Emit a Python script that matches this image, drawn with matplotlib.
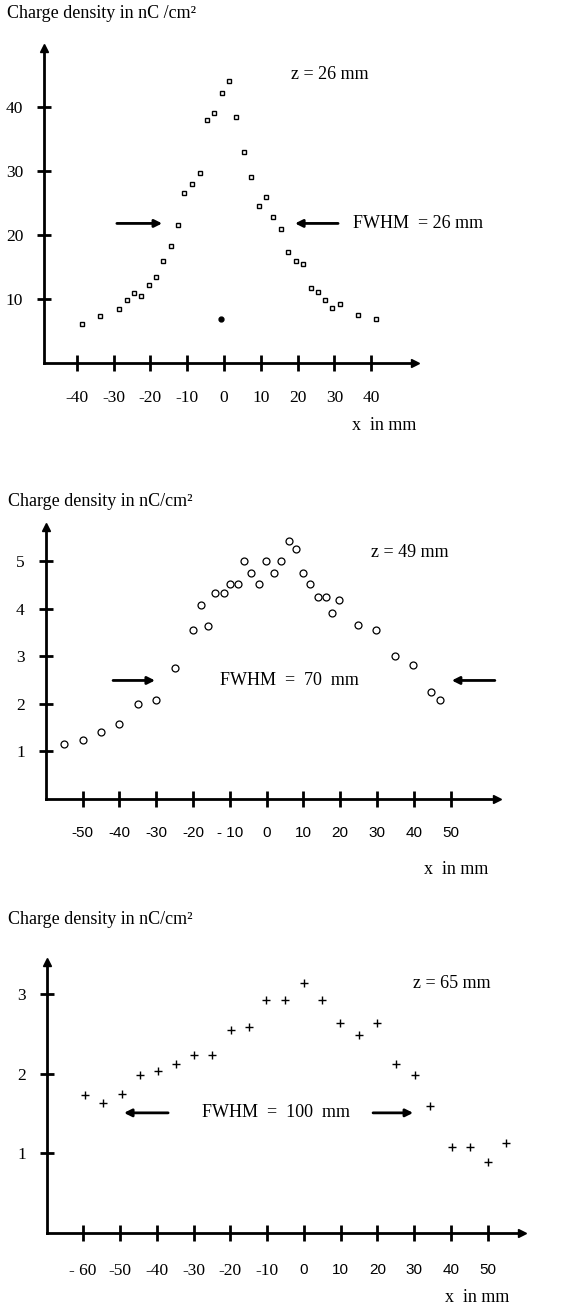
import matplotlib.pyplot as plt

SERIF = 'Liberation Serif'
SANS = 'Liberation Sans'
plt.rcParams['font.family'] = SERIF

# panel 1: z = 26 mm
p1_x = [-38.6, -33.6, -28.5, -26.4, -24.4, -22.5, -20.5, -18.5, -16.5, -14.5, -12.4,
        -10.8, -8.8, -6.5, -4.6, -2.6, -0.5, 1.4, 3.3, 5.4, 7.4, 9.4, 11.3, 13.4,
        15.5, 17.5, 19.5, 21.5, 23.6, 25.5, 27.4, 29.4, 31.4, 36.5, 41.4]
p1_y = [6.1, 7.4, 8.5, 9.8, 11.0, 10.4, 12.2, 13.5, 16.0, 18.3, 21.5,
        26.6, 27.9, 29.6, 38.0, 39.1, 42.2, 44.1, 38.5, 32.9, 29.0, 24.6, 26.0, 22.8,
        20.9, 17.3, 16.0, 15.4, 11.7, 11.1, 9.9, 8.6, 9.2, 7.5, 6.9]
p1_dot_x = [-0.7]
p1_dot_y = [6.9]
p1_xticks = [-40, -30, -20, -10, 0, 10, 20, 30, 40]
p1_xlabels = ['-40', '-30', '-20', '-10', '0', '10', '20', '30', '40']
p1_yticks = [10, 20, 30, 40]

# panel 2: z = 49 mm
p2_x = [-55.1, -50.0, -45.1, -40.1, -35.0, -30.1, -25.0, -20.1, -17.8, -16.0, -14.0,
        -11.7, -10.0, -7.8, -6.2, -4.2, -2.1, -0.2, 1.9, 3.9, 6.0, 8.0, 9.8, 11.9,
        14.0, 16.2, 17.9, 19.8, 24.9, 29.8, 34.9, 39.8, 44.6, 47.1]
p2_y = [1.15, 1.24, 1.41, 1.57, 1.99, 2.07, 2.75, 3.56, 4.08, 3.63, 4.33,
        4.33, 4.52, 4.52, 5.0, 4.75, 4.51, 5.0, 4.75, 5.0, 5.43, 5.26, 4.75, 4.51,
        4.25, 4.25, 3.9, 4.17, 3.65, 3.56, 3.0, 2.82, 2.24, 2.07]
p2_xticks = [-50, -40, -30, -20, -10, 0, 10, 20, 30, 40, 50]
p2_xlabels = ['-50', '-40', '-30', '-20', '- 10', '0', '10', '20', '30', '40', '50']
p2_yticks = [1, 2, 3, 4, 5]

# panel 3: z = 65 mm
p3_x = [-59.5, -54.6, -49.5, -44.6, -39.7, -34.7, -30.0, -25.0, -19.8, -14.9, -10.2,
        -5.2, 0.0, 4.9, 9.8, 14.9, 19.9, 25.1, 30.1, 34.2, 40.2, 45.1, 50.1, 55.0]
p3_y = [1.74, 1.64, 1.75, 1.98, 2.03, 2.13, 2.24, 2.24, 2.55, 2.59, 2.93,
        2.93, 3.14, 2.93, 2.64, 2.49, 2.64, 2.13, 1.98, 1.59, 1.08, 1.08, 0.89, 1.13]
p3_xticks = [-60, -50, -40, -30, -20, -10, 0, 10, 20, 30, 40, 50]
p3_xlabels = ['- 60', '-50', '-40', '-30', '-20', '-10', '0', '10', '20', '30', '40', '50']
p3_yticks = [1, 2, 3]

W, H = 572, 1305
fig = plt.figure(figsize=(W / 100, H / 100), dpi=100)


def make_axes(left, top, right, bottom):
    return fig.add_axes([left / W, 1 - bottom / H, (right - left) / W, (bottom - top) / H])


def style(ax, xticks, xlabels, yticks, xfonts, xpad):
    for s in ['top', 'right']:
        ax.spines[s].set_visible(False)
    for s in ['left', 'bottom']:
        ax.spines[s].set_linewidth(2)
    ax.set_xticks(xticks, xlabels)
    ax.set_yticks(yticks, [str(t) for t in yticks])
    ax.tick_params(axis='x', direction='inout', length=11, width=2, pad=xpad, labelsize=12.5)
    ax.tick_params(axis='y', direction='inout', length=10, width=2, pad=10, labelsize=12.5)
    for lab, f in zip(ax.get_xticklabels(), xfonts):
        lab.set_family(f)
        if f == SANS:
            lab.set_fontsize(11)
    ax.plot(1, 0, marker='>', ms=6, color='k', transform=ax.transAxes, clip_on=False)
    ax.plot(0, 1, marker='^', ms=6, color='k', transform=ax.transAxes, clip_on=False)


def arrow(ax, tail, head):
    ax.annotate('', xy=head, xytext=tail,
                arrowprops=dict(arrowstyle='-|>', color='k', lw=2, mutation_scale=11,
                                shrinkA=0, shrinkB=0))


# ---- panel 1
ax1 = make_axes(44, 48, 415, 363)
ax1.set_xlim(-48.9, 51.9)
ax1.set_ylim(0, 49.2)
ax1.plot(p1_x, p1_y, ls='none', marker='s', ms=3.2, mfc='white', mec='k', mew=1)
ax1.plot(p1_dot_x, p1_dot_y, ls='none', marker='o', ms=3.5, color='k')
style(ax1, p1_xticks, p1_xlabels, p1_yticks, [SERIF] * 9, 14)
arrow(ax1, (-29.1, 21.8), (-16.8, 21.8))
arrow(ax1, (31.0, 21.8), (19.3, 21.8))
ax1.text(35.0, 21.8, 'FWHM  = 26 mm', fontsize=13, va='center', ha='left')
ax1.text(18.2, 45.0, 'z = 26 mm', fontsize=13, va='center', ha='left')
fig.text(7 / W, 1 - 13 / H, 'Charge density in nC /cm²', fontsize=13, va='center', ha='left')
fig.text(384 / W, 1 - 425 / H, 'x  in mm', fontsize=13, va='center', ha='center')

# ---- panel 2
ax2 = make_axes(45.7, 526.7, 496.7, 799)
ax2.set_xlim(-60, 62.5)
ax2.set_ylim(0, 5.72)
ax2.plot(p2_x, p2_y, ls='none', marker='o', ms=5, mfc='white', mec='k', mew=0.9)
style(ax2, p2_xticks, p2_xlabels, p2_yticks, [SANS] * 11, 14)
arrow(ax2, (-41.7, 2.49), (-30.3, 2.49))
arrow(ax2, (62.0, 2.49), (50.3, 2.49))
ax2.text(-12.7, 2.49, 'FWHM  =  70  mm', fontsize=13, va='center', ha='left')
ax2.text(28.3, 5.17, 'z = 49 mm', fontsize=13, va='center', ha='left')
fig.text(8 / W, 1 - 502 / H, 'Charge density in nC/cm²', fontsize=13, va='center', ha='left')
fig.text(456 / W, 1 - 870 / H, 'x  in mm', fontsize=13, va='center', ha='center')

# ---- panel 3
ax3 = make_axes(46.7, 961.7, 521.7, 1233)
ax3.set_xlim(-69.9, 59.2)
ax3.set_ylim(0, 3.41)
ax3.plot(p3_x, p3_y, ls='none', marker='+', ms=6, color='k', mew=1)
style(ax3, p3_xticks, p3_xlabels, p3_yticks, [SERIF] * 6 + [SANS] * 6, 16)
arrow(ax3, (-36.9, 1.51), (-48.9, 1.51))
arrow(ax3, (18.8, 1.51), (29.7, 1.51))
ax3.text(-27.8, 1.51, 'FWHM  =  100  mm', fontsize=13, va='center', ha='left')
ax3.text(29.7, 3.13, 'z = 65 mm', fontsize=13, va='center', ha='left')
fig.text(8 / W, 1 - 920 / H, 'Charge density in nC/cm²', fontsize=13, va='center', ha='left')
fig.text(477 / W, 1 - 1297 / H, 'x  in mm', fontsize=13, va='center', ha='center')

fig.savefig('out.png', dpi=100)
